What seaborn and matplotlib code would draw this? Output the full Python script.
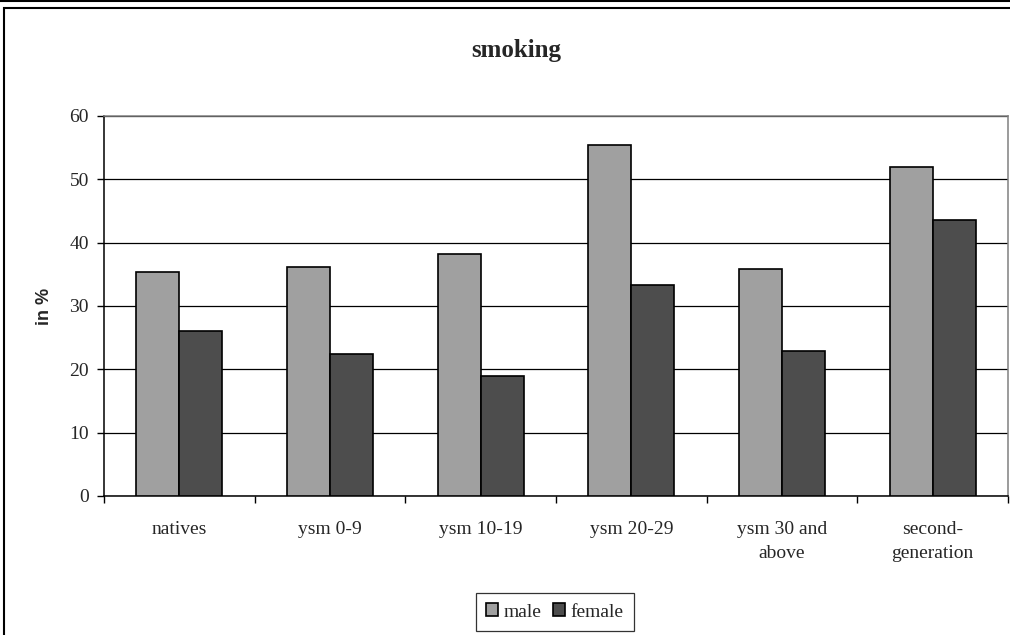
import matplotlib
matplotlib.use("Agg")
import matplotlib.pyplot as plt
from matplotlib.patches import Rectangle, Patch
from matplotlib.lines import Line2D
import numpy as np
import pandas as pd
import seaborn as sns

# Share of smokers by origin group and sex
categories = ["natives", "ysm 0-9", "ysm 10-19", "ysm 20-29",
              "ysm 30 and\nabove", "second-\ngeneration"]
male = [35.4, 36.2, 38.2, 55.4, 35.9, 52.0]
female = [26.1, 22.4, 19.0, 33.3, 22.9, 43.5]
series = ["male", "female"]
colors = ["#a0a0a0", "#4d4d4d"]
yticks = [0, 10, 20, 30, 40, 50, 60]

df = pd.DataFrame({
    "group": categories * 2,
    "sex": ["male"] * len(categories) + ["female"] * len(categories),
    "value": male + female,
})

sns.set_theme(style="white")
plt.rcParams["font.family"] = ["Liberation Serif", "DejaVu Serif"]

fig = plt.figure(figsize=(10.1, 6.35), dpi=100)
ax = fig.add_axes([0.103, 0.219, 0.895, 0.5984])

sns.barplot(data=df, x="group", y="value", hue="sex", order=categories,
            hue_order=series, palette=colors, width=0.57,
            edgecolor="black", linewidth=1.2, saturation=1,
            legend=False, ax=ax, zorder=3)

ax.set_ylim(0, 60)
ax.set_xlim(-0.5, len(categories) - 0.5)
ax.set_yticks(yticks)
ax.set_yticklabels([str(v) for v in yticks], fontsize=14)
ax.yaxis.grid(True, color="black", linewidth=0.9, zorder=0)
ax.set_axisbelow(True)

# category labels centred, tick marks on category boundaries
ax.set_xticks(range(len(categories)))
ax.set_xticklabels(categories, fontsize=14, linespacing=1.55)
ax.tick_params(axis="x", which="major", length=0, pad=18)
ax.set_xticks(np.arange(-0.5, len(categories)), minor=True)
ax.tick_params(axis="x", which="minor", length=5, width=1, color="black",
               direction="out", bottom=True)
ax.tick_params(axis="y", length=5, width=1, color="black", direction="out",
               left=True, pad=6)

ax.set_xlabel("")
ax.set_ylabel("in %", fontsize=13, fontweight="bold",
              family="Liberation Sans")
ax.yaxis.set_label_coords(-0.056, 0.5)

for side in ["left", "bottom"]:
    ax.spines[side].set_color("black")
    ax.spines[side].set_linewidth(1.1)
for side in ["top", "right"]:
    ax.spines[side].set_color("#808080")
    ax.spines[side].set_linewidth(1.1)

fig.text(516 / 1010, 1 - 51 / 635, "smoking", ha="center", va="center",
         fontsize=18, fontweight="bold")

handles = [Patch(facecolor=c, edgecolor="black", linewidth=1.2) for c in colors]
leg = fig.legend(handles, series, loc="center", ncol=2,
                 bbox_to_anchor=(555 / 1010, 1 - 612 / 635),
                 fontsize=14, frameon=True, fancybox=False,
                 handlelength=0.6, handleheight=0.6, handletextpad=0.3,
                 columnspacing=0.6, borderpad=0.55, borderaxespad=0)
leg.get_frame().set_edgecolor("black")
leg.get_frame().set_linewidth(0.9)

# outer chart frame
fig.add_artist(Rectangle((4 / 1010, -0.05), 1.1, 1 - 8 / 635 + 0.05,
                         transform=fig.transFigure, fill=False,
                         edgecolor="black", linewidth=1.5))
fig.add_artist(Line2D([0, 1], [1 - 1 / 635, 1 - 1 / 635],
                      transform=fig.transFigure, color="black", linewidth=1.5))

fig.savefig("out.png", dpi=100)
